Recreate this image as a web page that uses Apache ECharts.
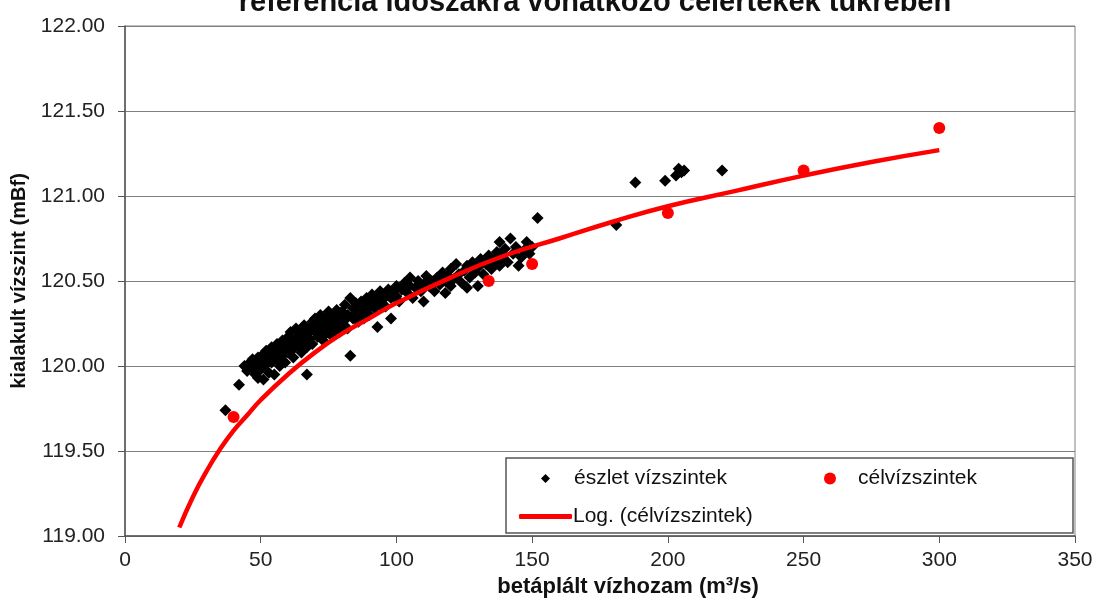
<!DOCTYPE html>
<html>
<head>
<meta charset="utf-8">
<title>kialakult vízszint</title>
<script src="https://cdn.jsdelivr.net/npm/echarts/dist/echarts.min.js"></script>
<style>
  html, body { margin: 0; padding: 0; background: #fff; }
  #chart { width: 1104px; height: 603px; }
</style>
</head>
<body>
<div id="chart"></div>
<script>
// észlelt vízszintek: [betáplált vízhozam, kialakult vízszint]
const observed = [
  [37, 119.74], [42, 119.89], [44, 120.00], [45, 119.97], [46, 120.02], [47, 119.99], [47, 120.04],
  [48, 119.95], [48, 120.01], [49, 120.05], [49, 119.93], [50, 120.03], [50, 119.98], [51, 120.07],
  [51, 119.92], [52, 120.01], [52, 120.09], [53, 119.96], [53, 120.05], [54, 120.11], [54, 120.02],
  [55, 119.95], [55, 120.08], [56, 120.13], [56, 120.04], [57, 120.00], [57, 120.10], [58, 120.15],
  [58, 120.06], [59, 120.12], [59, 120.02], [60, 120.17], [60, 120.08], [61, 120.13], [61, 120.20],
  [62, 120.10], [62, 120.05], [63, 120.16], [63, 120.22], [64, 120.12], [64, 120.18], [65, 120.08],
  [65, 120.21], [66, 120.15], [66, 120.24], [67, 120.19], [67, 120.11], [67, 119.95], [68, 120.22],
  [68, 120.16], [69, 120.26], [69, 120.13], [70, 120.20], [70, 120.28], [71, 120.17], [71, 120.24],
  [72, 120.30], [72, 120.21], [73, 120.15], [73, 120.26], [74, 120.19], [74, 120.29], [75, 120.23],
  [75, 120.32], [76, 120.18], [76, 120.27], [77, 120.22], [77, 120.30], [78, 120.25], [78, 120.33],
  [79, 120.20], [79, 120.28], [80, 120.24], [80, 120.32], [81, 120.27], [81, 120.36], [82, 120.30],
  [82, 120.22], [83, 120.40], [83, 120.06], [84, 120.28], [84, 120.34], [85, 120.31], [85, 120.37],
  [86, 120.26], [86, 120.33], [87, 120.38], [87, 120.30], [88, 120.35], [88, 120.28], [89, 120.40],
  [89, 120.33], [90, 120.36], [90, 120.30], [91, 120.42], [91, 120.38], [92, 120.34], [93, 120.23],
  [93, 120.40], [94, 120.36], [94, 120.44], [95, 120.39], [96, 120.42], [96, 120.35], [97, 120.45],
  [98, 120.28], [98, 120.40], [99, 120.44], [100, 120.47], [100, 120.41], [101, 120.38], [102, 120.45],
  [103, 120.49], [104, 120.43], [105, 120.47], [105, 120.52], [106, 120.40], [107, 120.46], [108, 120.50],
  [109, 120.44], [110, 120.38], [110, 120.48], [111, 120.53], [112, 120.47], [113, 120.50], [114, 120.44],
  [115, 120.52], [116, 120.48], [117, 120.55], [118, 120.43], [118, 120.50], [119, 120.53], [120, 120.47],
  [120, 120.57], [121, 120.51], [122, 120.60], [123, 120.54], [124, 120.49], [125, 120.56], [126, 120.46],
  [126, 120.59], [127, 120.52], [128, 120.61], [129, 120.55], [130, 120.47], [130, 120.58], [131, 120.63],
  [132, 120.54], [133, 120.60], [134, 120.65], [135, 120.57], [136, 120.62], [137, 120.67], [138, 120.73],
  [138, 120.59], [139, 120.64], [140, 120.69], [141, 120.61], [142, 120.75], [143, 120.66], [144, 120.70],
  [145, 120.59], [146, 120.64], [147, 120.68], [148, 120.73], [149, 120.66], [150, 120.70], [152, 120.87],
  [181, 120.83], [188, 121.08], [199, 121.09], [203, 121.12], [204, 121.16], [205, 121.14], [206, 121.15],
  [220, 121.15]
];

// célvízszintek
const targetFlow = [40, 134, 150, 200, 250, 300];
const targetLevel = [119.70, 120.50, 120.60, 120.90, 121.15, 121.40];

// Log. trendvonal, leolvasott pontok
const trendFlow = [20, 25, 30, 35, 40, 45, 50, 60, 70, 80, 90, 100, 120, 140, 160, 180, 200, 225, 250, 275, 300];
const trendLevel = [119.05, 119.23, 119.38, 119.51, 119.62, 119.71, 119.80, 119.95, 120.08, 120.19, 120.28,
  120.37, 120.52, 120.65, 120.75, 120.85, 120.94, 121.03, 121.12, 121.20, 121.27];

const font = 'Liberation Sans, Arial, sans-serif';
const red = '#ff0000';

const option = {
  animation: false,
  backgroundColor: '#fff',
  textStyle: { fontFamily: font },
  title: {
    text: 'referencia időszakra vonatkozó célértékek tükrében',
    left: 590,
    textAlign: 'center',
    top: -17,
    textStyle: { fontFamily: font, fontSize: 29, fontWeight: 'bold', color: '#111' }
  },
  grid: {
    left: 125, right: 29, top: 26, bottom: 65,
    show: true, borderColor: '#808080', borderWidth: 1
  },
  // három külön legenda, hogy az ikonok mérete külön állítható legyen
  legend: [
    {
      data: [{ name: 'észlet vízszintek', icon: 'diamond' }],
      left: 541, top: 468, padding: 0, itemWidth: 9, itemHeight: 9,
      textStyle: { fontFamily: font, fontSize: 21, color: '#111', padding: [0, 0, 0, 19] }
    },
    {
      data: [{ name: 'célvízszintek', icon: 'circle' }],
      left: 824, top: 468, padding: 0, itemWidth: 12, itemHeight: 12,
      textStyle: { fontFamily: font, fontSize: 21, color: '#111', padding: [0, 0, 0, 17] }
    },
    {
      data: [{ name: 'Log. (célvízszintek)', icon: 'roundRect' }],
      left: 519, top: 506, padding: 0, itemWidth: 53, itemHeight: 5,
      textStyle: { fontFamily: font, fontSize: 21, color: '#111', padding: [0, 0, 0, -4] }
    }
  ],
  graphic: [
    {
      type: 'rect', z: 0,
      shape: { x: 506, y: 458, width: 567, height: 75 },
      style: { fill: '#fff', stroke: '#555', lineWidth: 1.5 }
    }
  ],
  xAxis: {
    type: 'value', min: 0, max: 350, interval: 50,
    name: 'betáplált vízhozam (m³/s)',
    nameLocation: 'middle', nameGap: 40,
    nameTextStyle: { fontFamily: font, fontSize: 22, fontWeight: 'bold', color: '#111', padding: [0, 0, 0, 56] },
    axisLine: { lineStyle: { color: '#555', width: 1.5 } },
    axisTick: { length: 7, lineStyle: { color: '#555' } },
    axisLabel: { fontFamily: font, fontSize: 21, color: '#222', margin: 14 },
    splitLine: { show: false }
  },
  yAxis: {
    type: 'value', min: 119, max: 122, interval: 0.5,
    name: 'kialakult vízszint (mBf)',
    nameLocation: 'middle', nameGap: 88,
    nameTextStyle: { fontFamily: font, fontSize: 20, fontWeight: 'bold', color: '#111' },
    axisLine: { show: true, lineStyle: { color: '#555', width: 1.5 } },
    axisTick: { show: true, length: 7, lineStyle: { color: '#555' } },
    axisLabel: {
      fontFamily: font, fontSize: 21, color: '#222', margin: 20,
      formatter: v => v.toFixed(2)
    },
    splitLine: { lineStyle: { color: '#808080', width: 1 } }
  },
  series: [
    {
      name: 'észlet vízszintek',
      type: 'scatter',
      symbol: 'diamond',
      symbolSize: 12,
      itemStyle: { color: '#000', opacity: 1 },
      data: observed,
      z: 2
    },
    {
      name: 'Log. (célvízszintek)',
      type: 'line',
      smooth: true,
      showSymbol: false,
      symbol: 'none',
      lineStyle: { color: red, width: 4.5 },
      itemStyle: { color: red },
      data: trendFlow.map((x, i) => [x, trendLevel[i]]),
      z: 3
    },
    {
      name: 'célvízszintek',
      type: 'scatter',
      symbol: 'circle',
      symbolSize: 12,
      itemStyle: { color: red, opacity: 1 },
      data: targetFlow.map((x, i) => [x, targetLevel[i]]),
      z: 4
    }
  ]
};

const chart = echarts.init(document.getElementById('chart'));
chart.setOption(option);
</script>
</body>
</html>
